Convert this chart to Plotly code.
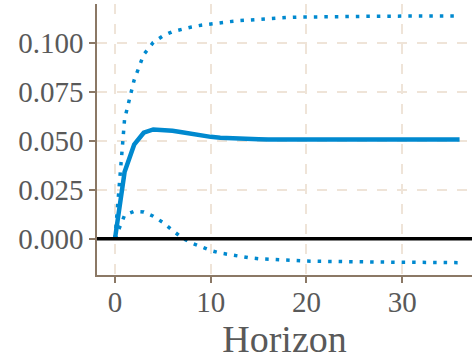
import plotly.graph_objects as go

# impulse response
horizon = list(range(37))
irf = [0.0, 0.034, 0.048, 0.0541, 0.0558, 0.0556, 0.0551, 0.0544, 0.0535, 0.0527,
       0.0520, 0.0516, 0.0513, 0.0511, 0.0509, 0.0508, 0.0507, 0.0507, 0.0507, 0.0507,
       0.0507, 0.0507, 0.0507, 0.0507, 0.0507, 0.0507, 0.0507, 0.0507, 0.0507, 0.0507,
       0.0507, 0.0507, 0.0507, 0.0507, 0.0507, 0.0507, 0.0507]
upper = [0.0, 0.061, 0.081, 0.094, 0.1002, 0.1035, 0.1057, 0.1071, 0.1081, 0.1090,
         0.1097, 0.1103, 0.1108, 0.1113, 0.1117, 0.1121, 0.1124, 0.1127, 0.1129, 0.1131,
         0.1132, 0.1133, 0.1134, 0.1134, 0.1135, 0.1135, 0.1135, 0.1136, 0.1136, 0.1136,
         0.1136, 0.1137, 0.1137, 0.1137, 0.1137, 0.1137, 0.1137]
lower = [0.0, 0.0120, 0.0140, 0.0137, 0.0115, 0.0083, 0.0043, 0.0005, -0.0022, -0.0042,
         -0.0060, -0.0073, -0.0082, -0.0090, -0.0097, -0.0102, -0.0105, -0.0108, -0.0110, -0.0113,
         -0.0114, -0.0115, -0.0116, -0.0117, -0.0117, -0.0118, -0.0118, -0.0119, -0.0119, -0.0120,
         -0.0120, -0.0120, -0.0121, -0.0121, -0.0121, -0.0122, -0.0122]

blue = "#0089CF"
axis_col = "#8B7865"
grid_col = "#EFE4D8"
font_fam = "Liberation Serif"

fig = go.Figure()
fig.add_trace(go.Scatter(x=horizon, y=upper, mode="lines",
                         line=dict(color=blue, width=3.5, dash="3.5px,7px")))
fig.add_trace(go.Scatter(x=horizon, y=lower, mode="lines",
                         line=dict(color=blue, width=3.5, dash="3.5px,7px")))
fig.add_trace(go.Scatter(x=horizon, y=irf, mode="lines",
                         line=dict(color=blue, width=4.5)))
fig.add_hline(y=0, line=dict(color="black", width=3.5))

fig.update_layout(
    width=472, height=360,
    margin=dict(l=97, r=0, t=4, b=85),
    plot_bgcolor="white", paper_bgcolor="white",
    showlegend=False,
    font=dict(family=font_fam, size=29, color="#595959"),
)
fig.update_xaxes(
    range=[-1.88, 37.3], tickvals=[0, 10, 20, 30],
    showline=True, linecolor=axis_col, linewidth=1.5,
    ticks="outside", ticklen=6, tickcolor=axis_col, tickwidth=1.5,
    ticklabelstandoff=-6,
    showgrid=True, gridcolor=grid_col, gridwidth=1.5, griddash="10px,10px",
    zeroline=False, automargin=False,
    title=dict(text="Horizon", font=dict(size=38), standoff=2),
)
fig.update_yaxes(
    range=[-0.0185, 0.1198], tickvals=[0, 0.025, 0.05, 0.075, 0.1],
    tickformat=".3f",
    showline=True, linecolor=axis_col, linewidth=1.5,
    ticks="outside", ticklen=6, tickcolor=axis_col, tickwidth=1.5,
    showgrid=True, gridcolor=grid_col, gridwidth=1.5, griddash="10px,10px",
    zeroline=False, automargin=False,
)

# drop the page's default body margin so the figure sits at the corner
fig.write_html("out.html", config={"displayModeBar": False},
               post_script="document.body.style.margin='0';")
